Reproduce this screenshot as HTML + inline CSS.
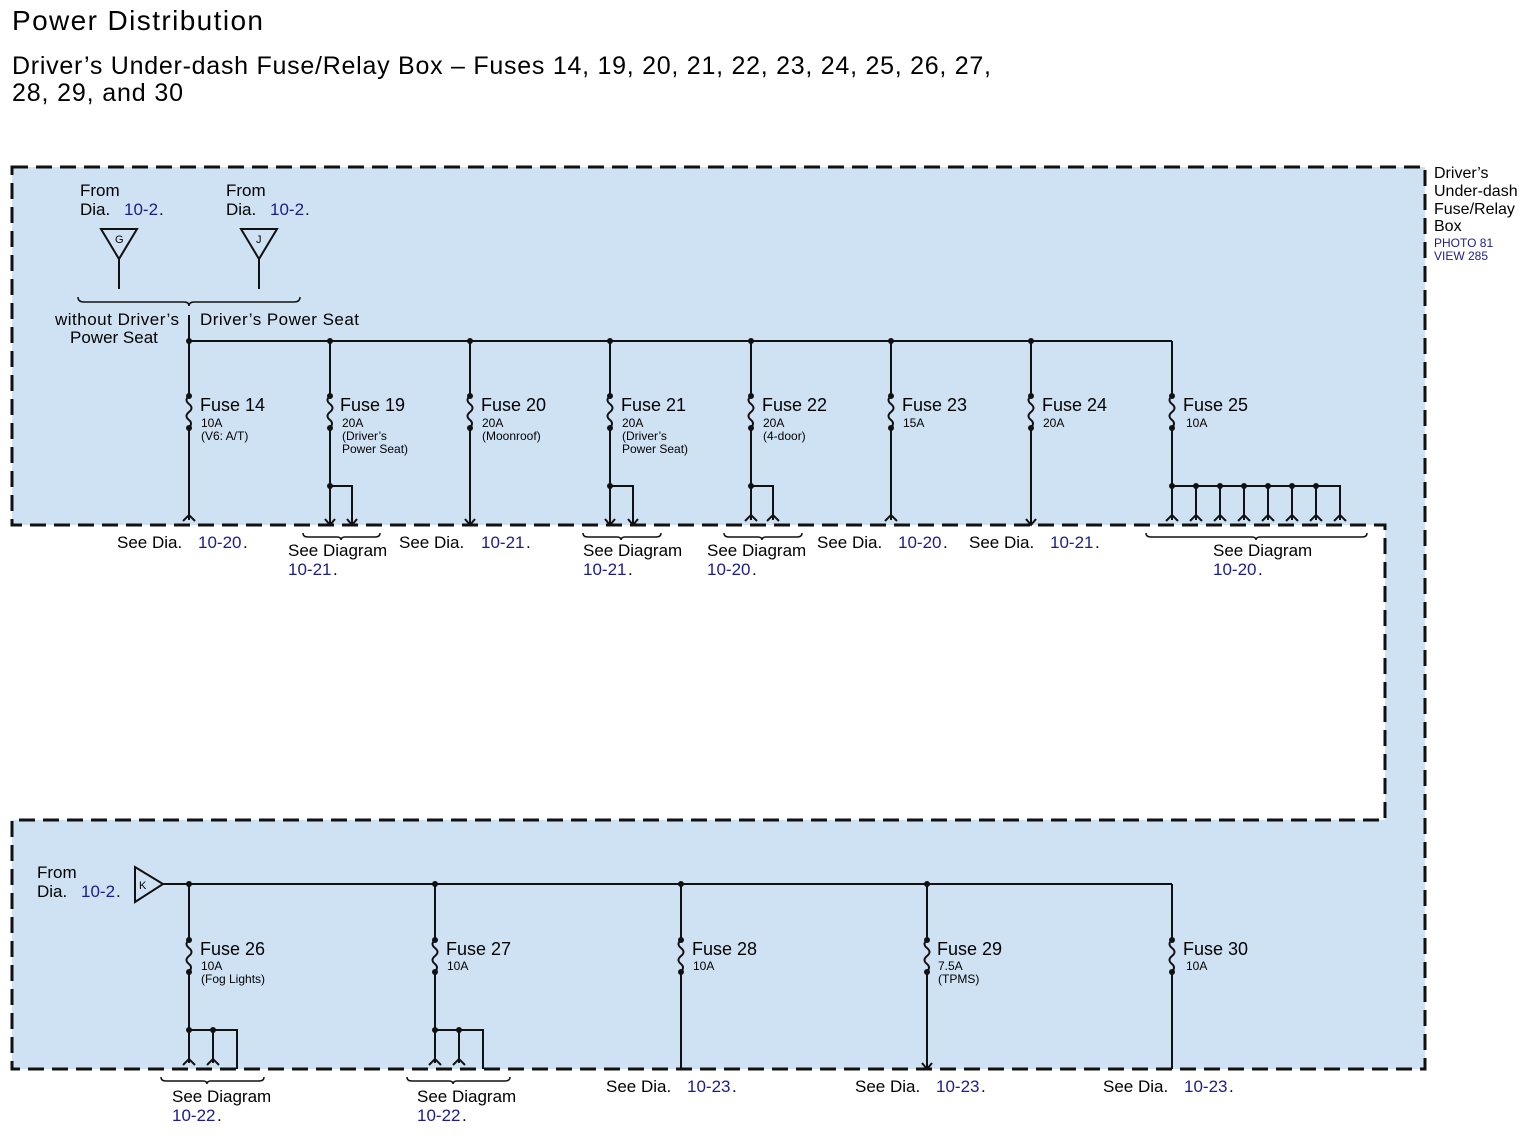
<!DOCTYPE html>
<html><head><meta charset="utf-8"><style>
body{margin:0;background:#fff}
svg{display:block;font-family:"Liberation Sans",sans-serif}
.b{fill:#1c1c8a}
</style></head><body>
<svg width="1535" height="1143" viewBox="0 0 1535 1143" xmlns="http://www.w3.org/2000/svg">
<defs>
<path id="fz" d="M0 0 q-5 4 0 8 q5 4 0 8 q-5 4 0 8 q4 3 0 8"/>
<g id="fd"><circle cx="0" cy="396" r="3"/><circle cx="0" cy="428" r="3"/></g>
<g id="fd2"><circle cx="0" cy="940" r="3"/><circle cx="0" cy="972" r="3"/></g>
<path id="fm" d="M-6 521 L0 515 L6 521"/>
<path id="am" d="M-5 519 L0 525 L5 519"/>
</defs>
<text x="12" y="30" font-size="28" textLength="251">Power Distribution</text>
<text x="12" y="74" font-size="25" textLength="979">Driver’s Under-dash Fuse/Relay Box – Fuses 14, 19, 20, 21, 22, 23, 24, 25, 26, 27,</text>
<text x="12" y="101" font-size="25" textLength="171">28, 29, and 30</text>

<path d="M12 167 H1425 V1069 H12 V820 H1385 V525 H12 Z" fill="#cfe2f4" stroke="#111" stroke-width="3" stroke-dasharray="16 8"/>

<g font-size="16"><text x="1434" y="178">Driver’s</text><text x="1434" y="196">Under-dash</text><text x="1434" y="214">Fuse/Relay</text><text x="1434" y="231">Box</text></g>
<g font-size="12" class="b"><text x="1434" y="247">PHOTO 81</text><text x="1434" y="260">VIEW 285</text></g>

<g stroke="#111" stroke-width="2" fill="none">
<path d="M101 229 H137 L119 259 Z M119 259 V289"/>
<path d="M241 229 H277 L259 259 Z M259 259 V289"/>
<path d="M78 297 Q78 302 84 302 H184 Q189 302 189 306 Q189 302 194 302 H294 Q300 302 300 297" stroke-width="1.5"/>
<path d="M189 315 V520 M189 341 H1172"/>
<path d="M330 341 V525 M470 341 V525 M610 341 V525 M751 341 V520 M891 341 V520 M1031 341 V525 M1172 341 V520"/>
<path d="M330 486 H352 V525 M610 486 H633 V525 M751 486 H773 V520"/>
<path d="M1172 486 H1340 V520 M1196 486 V520 M1220 486 V520 M1244 486 V520 M1268 486 V520 M1292 486 V520 M1316 486 V520"/>
<path d="M135 867 V902 L163 884 Z M163 884 H1172"/>
<path d="M189 884 V1063 M435 884 V1063 M681 884 V1069 M927 884 V1069 M1172 884 V1069"/>
<path d="M189 1030 H237 V1069 M213 1030 V1063 M435 1030 H483 V1069 M459 1030 V1063"/>
</g>
<g stroke="#cfe2f4" stroke-width="4">
<path d="M189 398 V426 M330 398 V426 M470 398 V426 M610 398 V426 M751 398 V426 M891 398 V426 M1031 398 V426 M1172 398 V426"/>
<path d="M189 942 V970 M435 942 V970 M681 942 V970 M927 942 V970 M1172 942 V970"/>
</g>
<g stroke="#111" stroke-width="2" fill="none">
<use href="#fz" x="189" y="396"/><use href="#fz" x="330" y="396"/><use href="#fz" x="470" y="396"/><use href="#fz" x="610" y="396"/><use href="#fz" x="751" y="396"/><use href="#fz" x="891" y="396"/><use href="#fz" x="1031" y="396"/><use href="#fz" x="1172" y="396"/>
<use href="#fz" x="189" y="940"/><use href="#fz" x="435" y="940"/><use href="#fz" x="681" y="940"/><use href="#fz" x="927" y="940"/><use href="#fz" x="1172" y="940"/>
</g>
<g fill="#111">
<circle cx="189" cy="341" r="3"/><circle cx="330" cy="341" r="3"/><circle cx="470" cy="341" r="3"/><circle cx="610" cy="341" r="3"/><circle cx="751" cy="341" r="3"/><circle cx="891" cy="341" r="3"/><circle cx="1031" cy="341" r="3"/>
<use href="#fd" x="189"/><use href="#fd" x="330"/><use href="#fd" x="470"/><use href="#fd" x="610"/><use href="#fd" x="751"/><use href="#fd" x="891"/><use href="#fd" x="1031"/><use href="#fd" x="1172"/>
<circle cx="330" cy="486" r="3"/><circle cx="610" cy="486" r="3"/><circle cx="751" cy="486" r="3"/>
<circle cx="1172" cy="486" r="3"/><circle cx="1196" cy="486" r="3"/><circle cx="1220" cy="486" r="3"/><circle cx="1244" cy="486" r="3"/><circle cx="1268" cy="486" r="3"/><circle cx="1292" cy="486" r="3"/><circle cx="1316" cy="486" r="3"/>
<circle cx="189" cy="884" r="3"/><circle cx="435" cy="884" r="3"/><circle cx="681" cy="884" r="3"/><circle cx="927" cy="884" r="3"/>
<use href="#fd2" x="189"/><use href="#fd2" x="435"/><use href="#fd2" x="681"/><use href="#fd2" x="927"/><use href="#fd2" x="1172"/>
<circle cx="189" cy="1030" r="3"/><circle cx="213" cy="1030" r="3"/><circle cx="435" cy="1030" r="3"/><circle cx="459" cy="1030" r="3"/>
</g>
<g stroke="#111" stroke-width="2" fill="none">
<use href="#fm" x="189"/><use href="#fm" x="751"/><use href="#fm" x="773"/><use href="#fm" x="891"/>
<use href="#fm" x="1172"/><use href="#fm" x="1196"/><use href="#fm" x="1220"/><use href="#fm" x="1244"/><use href="#fm" x="1268"/><use href="#fm" x="1292"/><use href="#fm" x="1316"/><use href="#fm" x="1340"/>
<use href="#am" x="330"/><use href="#am" x="352"/><use href="#am" x="470"/><use href="#am" x="610"/><use href="#am" x="633"/><use href="#am" x="1031"/>
<use href="#fm" x="189" y="544"/><use href="#fm" x="213" y="544"/><use href="#fm" x="435" y="544"/><use href="#fm" x="459" y="544"/>
<use href="#am" x="927" y="544"/>
<g stroke-width="1.5">
<path d="M303 533 Q303 537 308 537 H337 Q341 537 341 540 Q341 537 345 537 H375 Q380 537 380 533"/>
<path d="M583 533 Q583 537 588 537 H617 Q621 537 621 540 Q621 537 625 537 H656 Q661 537 661 533"/>
<path d="M724 533 Q724 537 729 537 H758 Q762 537 762 540 Q762 537 766 537 H797 Q802 537 802 533"/>
<path d="M1146 533 Q1146 537 1151 537 H1252 Q1256 537 1256 540 Q1256 537 1260 537 H1362 Q1367 537 1367 533"/>
<path d="M161 1077 Q161 1081 166 1081 H203 Q207 1081 207 1084 Q207 1081 211 1081 H259 Q264 1081 264 1077"/>
<path d="M407 1077 Q407 1081 412 1081 H449 Q453 1081 453 1084 Q453 1081 457 1081 H505 Q510 1081 510 1077"/>
</g>
</g>
<g font-size="11"><text x="115" y="243">G</text><text x="256" y="243">J</text><text x="139" y="889">K</text></g>
<g font-size="17">
<text x="80" y="196">From</text><text x="80" y="215">Dia.</text><text x="124" y="215" class="b">10-2</text><text x="159" y="215">.</text>
<text x="226" y="196">From</text><text x="226" y="215">Dia.</text><text x="270" y="215" class="b">10-2</text><text x="305" y="215">.</text>
<text x="55" y="325" textLength="124">without Driver’s</text><text x="70" y="343">Power Seat</text>
<text x="200" y="325" textLength="159">Driver’s Power Seat</text>
<text x="37" y="878">From</text><text x="37" y="897">Dia.</text><text x="81" y="897" class="b">10-2</text><text x="116" y="897">.</text>
</g>
<g font-size="18">
<text x="200" y="411">Fuse 14</text><text x="340" y="411">Fuse 19</text><text x="481" y="411">Fuse 20</text><text x="621" y="411">Fuse 21</text><text x="762" y="411">Fuse 22</text><text x="902" y="411">Fuse 23</text><text x="1042" y="411">Fuse 24</text><text x="1183" y="411">Fuse 25</text>
<text x="200" y="955">Fuse 26</text><text x="446" y="955">Fuse 27</text><text x="692" y="955">Fuse 28</text><text x="937" y="955">Fuse 29</text><text x="1183" y="955">Fuse 30</text>
</g>
<g font-size="12">
<text x="201" y="427">10A</text><text x="201" y="440">(V6: A/T)</text>
<text x="342" y="427">20A</text><text x="342" y="440">(Driver’s</text><text x="342" y="453">Power Seat)</text>
<text x="482" y="427">20A</text><text x="482" y="440">(Moonroof)</text>
<text x="622" y="427">20A</text><text x="622" y="440">(Driver’s</text><text x="622" y="453">Power Seat)</text>
<text x="763" y="427">20A</text><text x="763" y="440">(4-door)</text>
<text x="903" y="427">15A</text><text x="1043" y="427">20A</text><text x="1186" y="427">10A</text>
<text x="201" y="970">10A</text><text x="201" y="983">(Fog Lights)</text>
<text x="447" y="970">10A</text><text x="693" y="970">10A</text>
<text x="938" y="970">7.5A</text><text x="938" y="983">(TPMS)</text><text x="1186" y="970">10A</text>
</g>
<g font-size="17">
<text x="117" y="548">See Dia.</text><text x="198" y="548" class="b">10-20</text><text x="243" y="548">.</text>
<text x="288" y="556">See Diagram</text><text x="288" y="575" class="b">10-21</text><text x="333" y="575">.</text>
<text x="399" y="548">See Dia.</text><text x="481" y="548" class="b">10-21</text><text x="526" y="548">.</text>
<text x="583" y="556">See Diagram</text><text x="583" y="575" class="b">10-21</text><text x="628" y="575">.</text>
<text x="707" y="556">See Diagram</text><text x="707" y="575" class="b">10-20</text><text x="752" y="575">.</text>
<text x="817" y="548">See Dia.</text><text x="898" y="548" class="b">10-20</text><text x="943" y="548">.</text>
<text x="969" y="548">See Dia.</text><text x="1050" y="548" class="b">10-21</text><text x="1095" y="548">.</text>
<text x="1213" y="556">See Diagram</text><text x="1213" y="575" class="b">10-20</text><text x="1258" y="575">.</text>
<text x="172" y="1102">See Diagram</text><text x="172" y="1121" class="b">10-22</text><text x="217" y="1121">.</text>
<text x="417" y="1102">See Diagram</text><text x="417" y="1121" class="b">10-22</text><text x="462" y="1121">.</text>
<text x="606" y="1092">See Dia.</text><text x="687" y="1092" class="b">10-23</text><text x="732" y="1092">.</text>
<text x="855" y="1092">See Dia.</text><text x="936" y="1092" class="b">10-23</text><text x="981" y="1092">.</text>
<text x="1103" y="1092">See Dia.</text><text x="1184" y="1092" class="b">10-23</text><text x="1229" y="1092">.</text>
</g>
</svg>
</body></html>
